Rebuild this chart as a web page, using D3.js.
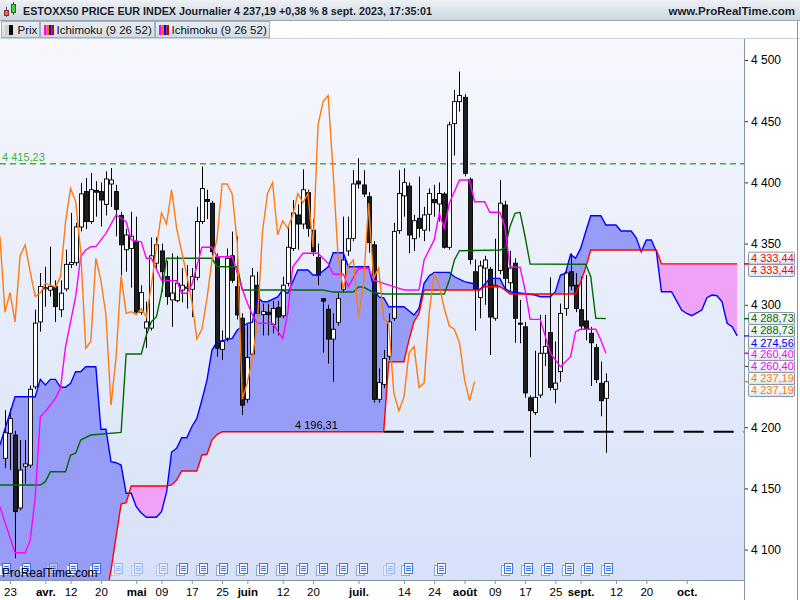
<!DOCTYPE html>
<html><head><meta charset="utf-8">
<script src="https://cdn.jsdelivr.net/npm/d3@7"></script>
<style>body{margin:0;background:#fff;} svg{display:block;font-family:"Liberation Sans",Arial,sans-serif;}</style>
</head><body>
<svg id="c" width="800" height="600"></svg>
<script>
// ---------------- DATA ----------------
const firstDay = -1; // trading-day index of the first candle (22 March 2023); 23 March = 0
const opens = [4174.6,4195,4193.6,4134,4168,4169,4233,4286,4313,4312,4315,4296,4313,4333,4334.4,4363.6,4392.5,4368,4393.5,4392.5,4382,4398.7,4392.5,4373,4345,4346,4351.6,4294,4281,4281,4334,4344,4323,4304,4303.4,4312,4313.5,4312.7,4322.5,4368,4386,4383,4339,4263.6,4272.7,4340,4314.8,4289,4222.8,4259.8,4316,4292,4294,4284,4297.7,4291,4317.6,4346,4373.4,4366,4391.6,4361,4338.8,4305,4296.3,4272,4285.7,4312.7,4344,4354.3,4401,4397.9,4388.3,4349,4222.8,4235,4258,4289,4360.6,4389,4397,4354,4370.7,4361,4374,4386,4382.4,4390.5,4347,4448,4466,4469.5,4402.5,4327,4306,4330,4329,4289,4328,4381.5,4318,4334,4285,4282,4224,4212,4226.3,4260.4,4277.3,4231,4245.4,4297,4327,4316,4296,4286.8,4276.7,4265,4235.9,4223.6];
const highs = [4214,4215,4197,4189.5,4189.5,4234,4296,4326,4331,4347.5,4320,4320,4345,4375,4367,4399.5,4403.6,4407.7,4401,4400,4409,4411.8,4398,4376,4362,4376,4372,4316,4302.6,4355,4355,4350,4336,4342,4340,4330,4332.5,4330,4380,4413,4394,4385,4342,4279,4346,4359.8,4356,4293,4284,4330,4327,4301,4301,4303,4303,4323,4364,4385.6,4382,4410.7,4394,4370,4350,4305,4300,4293,4310,4372,4372,4410,4419.7,4410,4392,4352,4248,4263,4293,4367,4410,4411.5,4400,4373.4,4404.7,4380,4395,4398,4400,4392,4449.6,4475.5,4490.5,4472,4404,4337,4336,4340,4331,4354,4402,4385,4344,4338,4304,4286,4226,4262.5,4291.7,4291.7,4322.5,4270,4301,4330,4342,4326,4323,4324.4,4282,4268,4253.6,4244];
const lows = [4166.4,4165,4093,4132,4154,4167,4231,4278,4298.5,4306.7,4286,4290,4311,4330,4332,4360,4362,4366,4372,4364,4373,4380,4356,4324,4327,4314,4293,4292,4264.7,4279,4330,4310.8,4300,4282,4302,4302,4297,4290,4320,4366,4370,4340,4257.6,4255,4270,4318,4288,4210,4220,4257,4290,4275,4275,4276.7,4275,4289,4315,4344,4345,4362,4355.6,4340,4316,4261,4252,4237,4283,4310,4340,4352,4395,4388,4342.6,4220,4220,4232,4255,4287,4358,4372,4342,4344,4355,4352,4360,4372,4368,4346,4345,4422,4457.8,4405,4333,4279,4289,4300,4259,4287,4325,4312,4311,4269,4268.6,4224,4175.4,4210,4224,4250,4230,4219.5,4237,4291,4312,4294,4280,4271,4233.7,4236,4209,4179];
const closes = [4195.5,4207,4131,4165,4170,4231,4285,4315,4314,4315,4298.5,4309.5,4333,4334.5,4363.6,4390.6,4368,4394,4392,4385.6,4402.8,4402,4378,4349,4357,4356,4294,4310,4286,4340,4349,4327,4306.7,4309.6,4317.6,4316,4314.5,4323,4368,4395,4384.5,4343.4,4264.5,4270,4338,4320,4291.7,4218,4257,4323.5,4293,4294.4,4292,4297,4290,4316,4347,4375,4366,4394,4362.5,4343.4,4324.3,4303,4272,4280,4305,4336.6,4354,4398.7,4398.7,4390.5,4350.8,4222.8,4236.4,4256,4286,4360,4391,4399.8,4357,4368.7,4362.5,4373.4,4391,4383.4,4391,4347,4447,4466,4471,4407.4,4337,4312.7,4331.7,4336.6,4290,4316,4383,4321.6,4330,4289,4284.3,4228,4213.5,4224.4,4260.4,4266,4232.4,4236,4293,4326,4315.4,4297,4282.7,4280,4269,4239,4221.7,4237.19];

// Ichimoku lines: [trading-day index, value]
const tenkan = [[-2,4135],[1,4097.4],[3,4097.4],[4,4107.8],[5,4143.2],[6,4208.6],[7,4212.7],[8,4218.1],[9,4223.8],[10,4232],[11,4265.8],[13,4306.6],[14,4339.3],[15,4344.8],[16,4347.5],[17,4347.5],[19,4358.4],[21,4373.4],[22,4370.7],[23,4367.9],[24,4353],[26,4351.5],[27,4338],[28,4338],[30,4320.2],[33,4319.7],[34,4309.4],[35,4309.4],[36,4316.2],[38,4347],[40,4347],[41,4339.3],[44,4339.3],[46,4312.9],[47,4301.5],[48,4291.7],[49,4284.9],[52,4284.9],[54,4272.6],[55,4293.3],[56,4331.1],[58,4342.1],[61,4342.1],[63,4333.9],[64,4324.9],[66,4324.9],[67,4314.8],[69,4329.8],[71,4329.8],[72,4320.2],[76,4314.8],[78,4312.1],[81,4312.1],[82,4336.6],[84,4353],[85,4374.7],[86,4362.5],[87,4382.9],[89,4401.9],[91,4401.9],[92,4384.2],[94,4384.2],[95,4375.6],[97,4375.6],[98,4363.8],[99,4331.1],[101,4330.6],[102,4312.1],[103,4288.1],[105,4288.1],[107,4260.4],[109,4249.4],[111,4257.6],[112,4278],[113,4280],[116,4280],[117,4271.2],[118,4260.4]];
const kijun = [[-2,4152.8],[6,4152.8],[7,4155.5],[8,4163.6],[11,4163.6],[12,4177.3],[13,4178.7],[14,4189.5],[16,4193.6],[22,4195.8],[23,4259.8],[26,4259.8],[27,4275.3],[28,4286.2],[29,4290.3],[30,4309.4],[31,4338],[40,4338],[41,4331.1],[45,4331.1],[46,4312.1],[62,4312.1],[64,4310.4],[68,4310.4],[69,4314.5],[70,4314.5],[72,4310],[74,4308.8],[86,4308.8],[87,4320.3],[88,4336.6],[89,4344.2],[97,4344.8],[98,4346.1],[99,4363.8],[100,4374.7],[101,4375.6],[102,4355.6],[103,4333.3],[114,4333.1],[115,4322.9],[116,4289],[118,4288.73]];
const senkouA = [[-2,4185.4],[1,4224.9],[5,4224.9],[6,4239.1],[7,4234.5],[8,4239.1],[9,4239.1],[10,4232.6],[11,4232.6],[12,4235.8],[13,4245.3],[14,4245.3],[15,4249.4],[17,4249.4],[18,4198.3],[19,4198.3],[20,4171.8],[21,4171],[22,4169.1],[23,4146],[24,4146],[25,4135],[26,4129.9],[27,4126.4],[29,4126.4],[30,4130.9],[31,4147],[32,4179.7],[33,4182.7],[34,4191.4],[35,4191.4],[36,4200.4],[37,4207.2],[38,4222.2],[39,4238.5],[40,4263],[41,4269.8],[42,4270.7],[44,4272.6],[45,4279.4],[47,4284.9],[48,4285.9],[49,4306.4],[50,4302.5],[51,4302.5],[53,4306.4],[54,4312.1],[55,4309.4],[57,4328.4],[59,4328.4],[60,4324.3],[61,4324.3],[63,4331.1],[64,4342.5],[66,4342.5],[67,4331.1],[71,4331.1],[72,4314.8],[73,4306.4],[74,4305.6],[75,4298.4],[78,4298.4],[80,4291.6],[81,4297.1],[82,4317.5],[83,4323.5],[84,4326.5],[87,4326.5],[88,4322.9],[90,4318.9],[92,4317],[93,4312.1],[95,4321.6],[97,4321.6],[98,4313.5],[99,4310.7],[104,4308],[105,4306.6],[107,4306.6],[108,4310.7],[109,4324.3],[110,4325.7],[111,4341.2],[112,4338],[113,4346.1],[114,4359.7],[115,4372.8],[117,4372.8],[118,4365.2],[120,4365.2],[121,4360.3],[123,4360.3],[124,4354.8],[125,4343.4],[126,4353],[127,4353],[128,4343.4],[129,4310.7],[131,4310.7],[133,4295.7],[134,4292.9],[135,4291.1],[137,4295.7],[138,4305.8],[139,4308],[140,4307.4],[141,4302.5],[142,4284.9],[143,4282.1],[144,4274.56]];
const senkouB = [[18,4035.4],[19,4061],[20,4083.3],[21,4110.3],[22,4137.2],[23,4138.3],[24,4151.9],[31,4151.9],[32,4152.8],[33,4156.8],[34,4164.2],[37,4164.2],[38,4177.3],[39,4177.9],[40,4189.5],[41,4194],[42,4196.31],[74,4196.31],[75,4253.5],[78,4253.5],[79,4271.2],[80,4286.2],[81,4293],[82,4312.1],[93,4312.1],[94,4314.8],[97,4314.8],[98,4312.1],[99,4308.8],[112,4308.8],[113,4318.3],[114,4330.4],[115,4344.8],[128,4344.8],[129,4333.44],[144,4333.44]];

const yTicks = [4100,4150,4200,4250,4300,4350,4400,4450,4500];
const yTickHidden = [4250]; // covered by the value boxes in the original
const dayLabels = [[0,'23',0],[7,'avr.',1],[12,'12',0],[18,'20',0],[25,'mai',1],[30,'09',0],[36,'17',0],[42,'25',0],[47,'juin',1],[54,'12',0],[60,'20',0],[69,'juil.',1],[78,'14',0],[84,'24',0],[90,'août',1],[96,'09',0],[102,'17',0],[108,'25',0],[113,'sept.',1],[120,'12',0],[126,'20',0],[134,'oct.',1]];
const eventDays = [-1.4,2.6,7.9,11.9,16.4,20.8,24.8,29.7,33.7,37.6,41.6,45.5,49.5,53.5,57.4,61.4,65.3,69.3,74.7,78.2,84.8,98,102,106,110,113.9,117.8];
const eventFaded = [0,0,1,0,0,1,1,1,0,0,0,0,0,0,0,0,0,0,1,0,0,0,0,0,0,0,0];
const highLevel = 4415.23;
const supportLevel = 4196.31;
const supportFrom = 74;
const titleText = 'ESTOXX50 PRICE EUR INDEX Journalier 4 237,19 +0,38 % 8 sept. 2023, 17:35:01';
const lastVals = {senkouB:4333.44, kijun:4288.73, senkouA:4274.56, tenkan:4260.40, chikou:4237.19};

// ---------------- DRAW ----------------
const COL = {tenkan:'#ff00ff', kijun:'#006a00', chikou:'#ff7a10', senkouA:'#0000ff', senkouB:'#ff0000'};
const L = 0, R = 744, T = 38, B = 580;
const svg = d3.select('#c');
const defs = svg.append('defs');
function vgrad(id, stops){const g=defs.append('linearGradient').attr('id',id).attr('x1',0).attr('y1',0).attr('x2',0).attr('y2',1);stops.forEach(s=>g.append('stop').attr('offset',s[0]).attr('stop-color',s[1]));}
vgrad('bg',[[0,'#f7f8fe'],[1,'#d7e1f8']]);
vgrad('title',[[0,'#eef1f5'],[1,'#cdd6e0']]);
vgrad('tab',[[0,'#e9edf2'],[1,'#d3dbe4']]);
vgrad('box',[[0,'#ffffff'],[1,'#e2e8ef']]);
defs.append('clipPath').attr('id','plot').append('rect').attr('x',L).attr('y',T).attr('width',R-L).attr('height',B-T);

const x = d3.scaleLinear().domain([0,1]).range([10,15.05]);
const y = d3.scaleLinear().domain([4100,4500]).range([549.6,60]);

svg.append('rect').attr('width',800).attr('height',600).attr('fill','#fff');
svg.append('rect').attr('x',L).attr('y',T).attr('width',R-L).attr('height',B-T).attr('fill','url(#bg)');

const plot = svg.append('g').attr('clip-path','url(#plot)');

// cloud
function interp(s,t){ if(t<s[0][0]||t>s[s.length-1][0]) return null;
  for(let k=1;k<s.length;k++){ if(t<=s[k][0]){const a=s[k-1],b=s[k];return a[1]+(b[1]-a[1])*(t-a[0])/(b[0]-a[0]);} } return null; }
const samples = d3.range(-2,144.001,0.05).map(t=>({t,a:interp(senkouA,t),b:interp(senkouB,t)}));
const blueArea = d3.area().defined(d=>d.a!=null).x(d=>x(d.t))
  .y0(d=>d.b==null?B+40:y(d.b)).y1(d=>d.b==null?y(d.a):y(Math.max(d.a,d.b)));
const pinkArea = d3.area().defined(d=>d.a!=null&&d.b!=null).x(d=>x(d.t))
  .y0(d=>y(d.a)).y1(d=>y(Math.max(d.a,d.b)));
plot.append('path').attr('d',blueArea(samples)).attr('fill','#979df7');
plot.append('path').attr('d',pinkArea(samples)).attr('fill','#f0a2f7');

// reference levels
plot.append('line').attr('x1',L).attr('x2',R).attr('y1',y(highLevel)).attr('y2',y(highLevel))
  .attr('stroke','#3cb43c').attr('stroke-width',1.6).attr('stroke-dasharray','6,4');
plot.append('line').attr('x1',x(supportFrom)).attr('x2',R).attr('y1',y(supportLevel)).attr('y2',y(supportLevel))
  .attr('stroke','#000').attr('stroke-width',2).attr('stroke-dasharray','20,10');

// bottom event icons
const ev = plot.append('g');
eventDays.forEach((d,k)=>{
  const ex = Math.round(x(d))-4, ey = 563;
  const g = ev.append('g').attr('opacity', eventFaded[k]?0.35:0.85);
  g.append('rect').attr('x',ex+0.5).attr('y',ey+2.5).attr('width',8).attr('height',10).attr('fill','#fff').attr('stroke','#7d9be6');
  g.append('rect').attr('x',ex+3.5).attr('y',ey+0.5).attr('width',8).attr('height',10).attr('fill','#fff').attr('stroke','#2a62d8');
  [3,5,7].forEach(o=>g.append('line').attr('x1',ex+5).attr('x2',ex+10).attr('y1',ey+o+0.5).attr('y2',ey+o+0.5).attr('stroke','#2a62d8'));
});

// candles
const candles = opens.map((o,k)=>({i:firstDay+k,o,h:highs[k],l:lows[k],c:closes[k]}));
const cg = plot.append('g');
candles.forEach(d=>{
  const cx = Math.round(x(d.i))+0.5;
  cg.append('line').attr('x1',cx).attr('x2',cx).attr('y1',y(d.h)).attr('y2',y(d.l)).attr('stroke','#000').attr('stroke-width',1);
  const top = y(Math.max(d.o,d.c)), h = Math.max(1,Math.abs(y(d.o)-y(d.c)));
  cg.append('rect').attr('x',cx-2).attr('y',top).attr('width',4).attr('height',h)
    .attr('fill', d.c>=d.o?'#fff':'#1e1e1e').attr('stroke','#000').attr('stroke-width',0.9);
});

// lines
const line = d3.line().x(d=>x(d[0])).y(d=>y(d[1]));
const chikou = candles.filter(d=>d.i>=24).map(d=>[d.i-26,d.c]);
plot.append('path').attr('d',line(senkouA)).attr('fill','none').attr('stroke',COL.senkouA).attr('stroke-width',1.4);
plot.append('path').attr('d',line(senkouB)).attr('fill','none').attr('stroke',COL.senkouB).attr('stroke-width',1.4);
plot.append('path').attr('d',line(kijun)).attr('fill','none').attr('stroke',COL.kijun).attr('stroke-width',1.4);
plot.append('path').attr('d',line(tenkan)).attr('fill','none').attr('stroke',COL.tenkan).attr('stroke-width',1.4);
plot.append('path').attr('d',line(chikou)).attr('fill','none').attr('stroke',COL.chikou).attr('stroke-width',1.4);

// level labels
const fmtNum = v => v.toFixed(2).replace('.',',').replace(/^(\d)(\d{3})/,'$1 $2');
plot.append('text').attr('x',2).attr('y',y(highLevel)-3).attr('font-size',11).attr('fill','#3cb43c').text(fmtNum(highLevel));
plot.append('text').attr('x',295).attr('y',y(supportLevel)-3).attr('font-size',11).attr('fill','#000').text(fmtNum(supportLevel));
plot.append('text').attr('x',2).attr('y',577).attr('font-size',12).attr('fill','#000').text('ProRealTime.com');

// right axis
svg.append('rect').attr('x',R).attr('y',T).attr('width',800-R).attr('height',600-T).attr('fill','#fff');
svg.append('rect').attr('x',0).attr('y',B).attr('width',800).attr('height',20).attr('fill','#fff');
const fmtTick = v => yTickHidden.includes(v) ? '' : String(v).replace(/^(\d)(\d{3})$/,'$1 $2');
const ya = svg.append('g').attr('transform',`translate(${R},0)`)
  .call(d3.axisRight(y).tickValues(yTicks).tickSize(4).tickPadding(3).tickFormat(fmtTick));
ya.select('.domain').remove();
ya.selectAll('text').attr('font-size',12).attr('font-family','"Liberation Sans",Arial,sans-serif').attr('fill','#000');
ya.selectAll('line').attr('stroke','#333');

// bottom axis
const xa = svg.append('g').attr('transform',`translate(0,${B})`)
  .call(d3.axisBottom(x).tickValues(dayLabels.map(d=>d[0])).tickSize(4).tickPadding(4).tickFormat((d,k)=>dayLabels[k][1]));
xa.select('.domain').remove();
xa.selectAll('text').attr('font-size',11.5).attr('font-family','"Liberation Sans",Arial,sans-serif').attr('fill','#000')
  .attr('font-weight',(d,k)=>dayLabels[k][2]?'bold':'normal');
xa.selectAll('line').attr('stroke','#8494a4');
svg.append('line').attr('x1',0).attr('x2',R).attr('y1',B+0.5).attr('y2',B+0.5).attr('stroke','#8494a4');
svg.append('line').attr('x1',R+0.5).attr('x2',R+0.5).attr('y1',T).attr('y2',600).attr('stroke','#8494a4');

// last value boxes (stacked next to the axis)
function box(key, off){
  const v = lastVals[key], yy = y(v);
  svg.append('line').attr('x1',R).attr('x2',R+5).attr('y1',yy).attr('y2',yy).attr('stroke',COL[key]).attr('stroke-width',1.2);
  const top = yy+off;
  svg.append('rect').attr('x',748.5).attr('y',top+0.5).attr('width',46).attr('height',12).attr('rx',1.5)
    .attr('fill','url(#box)').attr('stroke','#8595a6');
  svg.append('text').attr('x',751).attr('y',top+10.5).attr('font-size',11).attr('fill',COL[key]).text(fmtNum(v));
}
box('senkouB',-12.2); box('senkouB',0.1);
box('kijun',-6.6); box('kijun',5.4);
box('senkouA',0.1);
box('tenkan',-5.3); box('tenkan',6.7);
box('chikou',-9.7); box('chikou',2.3);

// header
svg.append('rect').attr('x',0).attr('y',0).attr('width',800).attr('height',20).attr('fill','url(#title)');
svg.append('line').attr('x1',0).attr('x2',800).attr('y1',20.5).attr('y2',20.5).attr('stroke','#9aa6b2');
svg.append('line').attr('x1',6.5).attr('x2',6.5).attr('y1',7).attr('y2',17).attr('stroke','#555');
svg.append('rect').attr('x',4.5).attr('y',10.5).attr('width',4).attr('height',5).attr('fill','#f06060').attr('stroke','#903030');
svg.append('line').attr('x1',13.5).attr('x2',13.5).attr('y1',2).attr('y2',15).attr('stroke','#555');
svg.append('rect').attr('x',11.5).attr('y',4.5).attr('width',4).attr('height',8).attr('fill','#40d040').attr('stroke','#207020');
svg.append('text').attr('x',23).attr('y',14.5).attr('font-size',11.5).attr('font-weight','bold').attr('fill','#1a1f2a')
  .attr('textLength',409).attr('lengthAdjust','spacingAndGlyphs').text(titleText);
svg.append('text').attr('x',795).attr('y',14.5).attr('text-anchor','end').attr('font-size',11.5).attr('font-weight','bold').attr('fill','#1a1f2a').text('www.ProRealTime.com');

// legend tabs
svg.append('rect').attr('x',0).attr('y',21).attr('width',800).attr('height',17).attr('fill','#fff');
const tabs = [{x:1.5,w:38,label:'Prix',icon:['#d0d0d0','#000']},{x:40.5,w:114,label:'Ichimoku (9 26 52)',icon:['#ff00ff','#ff6600','#0000ff','#cc0000']},{x:155.5,w:114,label:'Ichimoku (9 26 52)',icon:['#ff00ff','#ff6600','#0000ff','#cc0000']}];
tabs.forEach(tb=>{
  svg.append('rect').attr('x',tb.x).attr('y',21.5).attr('width',tb.w).attr('height',16).attr('fill','url(#tab)').attr('stroke','#a3aeb9');
  const bw = tb.icon.length===2?4:2.5;
  tb.icon.forEach((c,k)=>svg.append('rect').attr('x',tb.x+3.5+k*bw).attr('y',25).attr('width',bw).attr('height',10).attr('fill',c));
  svg.append('text').attr('x',tb.x+16).attr('y',34).attr('font-size',11.5).attr('fill','#111').text(tb.label);
});
svg.append('line').attr('x1',0).attr('x2',800).attr('y1',38.5).attr('y2',38.5).attr('stroke','#c8d0d8');
svg.append('line').attr('x1',797.5).attr('x2',797.5).attr('y1',21).attr('y2',600).attr('stroke','#8494a4');
</script>
</body></html>
